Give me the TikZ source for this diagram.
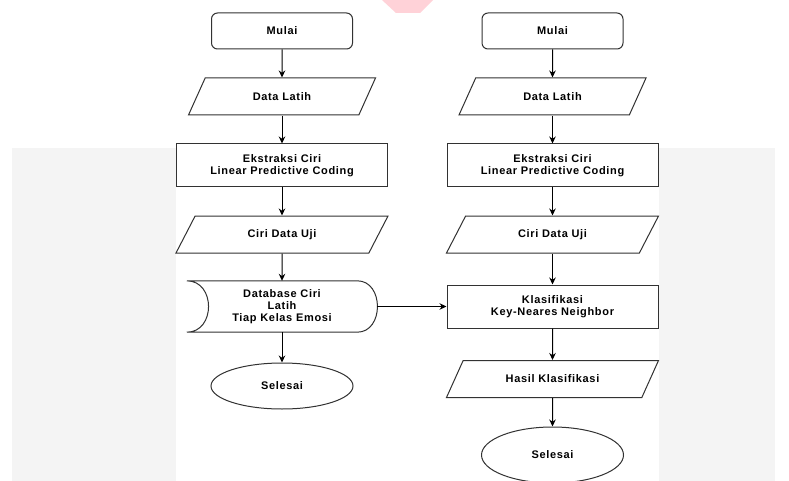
\documentclass[tikz,border=0pt]{standalone}
\usepackage{fontspec}
\newfontfamily\flowfont[LetterSpace=6]{Liberation Sans}
\usetikzlibrary{shapes.geometric,arrows.meta}
\definecolor{pagegray}{RGB}{244,244,244}
\definecolor{markpink}{RGB}{255,210,216}
\definecolor{edgegray}{RGB}{50,50,50}

\begin{document}
\begin{tikzpicture}[x=1pt,y=-1pt,
  every node/.style={font=\flowfont\fontsize{11}{11.7}\selectfont\bfseries, align=center},
  terminal/.style={rectangle, rounded corners=6pt, draw=edgegray, line width=1pt,
          minimum width=141pt, minimum height=36pt},
  process/.style={rectangle, draw=edgegray, line width=1pt,
          minimum width=211pt, minimum height=43pt},
  iobox/.style={trapezium, trapezium left angle=41.5, trapezium right angle=138.5,
          trapezium stretches body, draw=edgegray, line width=1pt,
          minimum width=#1, minimum height=37pt},
  finish/.style={ellipse, draw=edgegray, line width=1pt,
          minimum width=142pt, minimum height=#1},
  flow/.style={draw=black, line width=1pt, -{Stealth[length=7pt,width=6.5pt]}}
]
\useasboundingbox (0,0) rectangle (789,481);
% page behind the chart
\fill[pagegray] (12,148) rectangle (775,481);
\fill[white] (176,0) rectangle (659,481);
\fill[markpink] (382,0) -- (433,0) -- (420,13) -- (396,13) -- cycle;

% left column
\node[terminal] (mulaiA) at (282,31) {Mulai};
\node[iobox=187pt] (latihA) at (282,96.5) {Data Latih};
\node[process] (ekstrA) at (282,165.5) {Ekstraksi Ciri\\Linear Predictive Coding};
\node[iobox=212pt] (ujiA) at (282,234.5) {Ciri Data Uji};
\node[minimum width=190pt, minimum height=51pt] (dbA) at (282,306.5)
          {Database Ciri\\Latih\\Tiap Kelas Emosi};
\draw[edgegray, line width=1pt] (dbA.north west) -- ([xshift=-20pt]dbA.north east)
  .. controls ([xshift=7pt]dbA.north east) and ([xshift=7pt]dbA.south east) ..
  ([xshift=-20pt]dbA.south east) -- (dbA.south west)
  .. controls ([xshift=29pt]dbA.south west) and ([xshift=29pt]dbA.north west) ..
  (dbA.north west);
\node[finish=46pt] (selesaiA) at (282,386) {Selesai};

% right column
\node[terminal] (mulaiB) at (552.5,31) {Mulai};
\node[iobox=187pt] (latihB) at (552.5,96.5) {Data Latih};
\node[process] (ekstrB) at (552.5,165.5) {Ekstraksi Ciri\\Linear Predictive Coding};
\node[iobox=212pt] (ujiB) at (552.5,234.5) {Ciri Data Uji};
\node[process] (klasB) at (552.5,306.5) {Klasifikasi\\Key-Neares Neighbor};
\node[iobox=212pt] (hasilB) at (552.5,379) {Hasil Klasifikasi};
\node[finish=56pt] (selesaiB) at (552.5,455) {Selesai};

% connectors
\draw[flow] (mulaiA) -- (latihA);
\draw[flow] (latihA) -- (ekstrA);
\draw[flow] (ekstrA) -- (ujiA);
\draw[flow] (ujiA) -- (dbA);
\draw[flow] (dbA) -- (selesaiA);
\draw[flow] (mulaiB) -- (latihB);
\draw[flow] (latihB) -- (ekstrB);
\draw[flow] (ekstrB) -- (ujiB);
\draw[flow] (ujiB) -- (klasB);
\draw[flow] (klasB) -- (hasilB);
\draw[flow] (hasilB) -- (selesaiB);
\draw[flow] (dbA.east) -- (klasB.west);
\end{tikzpicture}
\end{document}
